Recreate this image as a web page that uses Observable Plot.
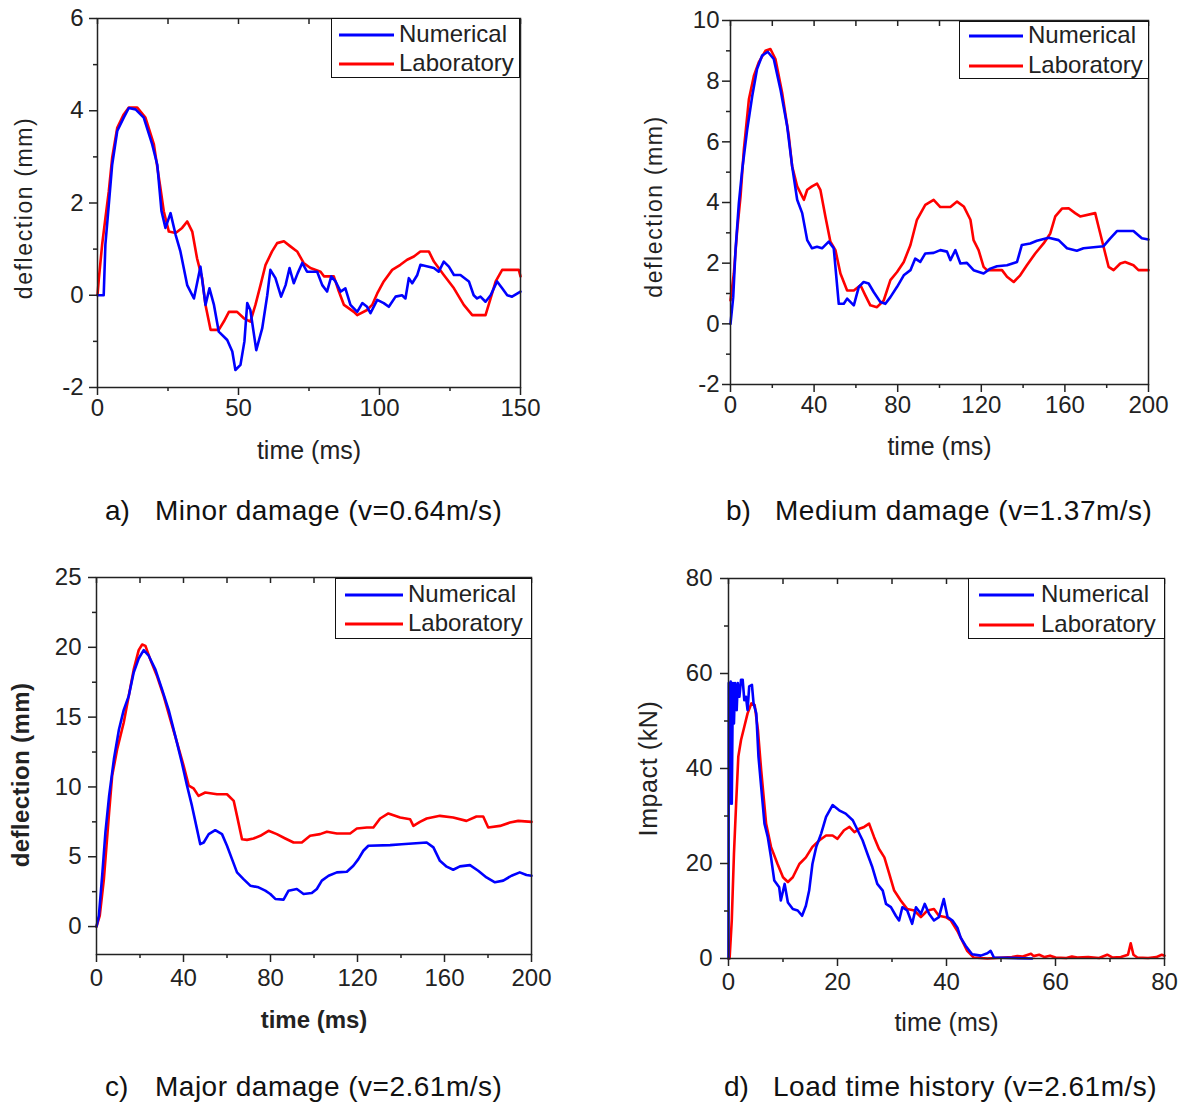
<!DOCTYPE html>
<html>
<head>
<meta charset="utf-8">
<script src="https://cdn.jsdelivr.net/npm/d3@7"></script>
<script src="https://cdn.jsdelivr.net/npm/@observablehq/plot@0.6"></script>
<style>
  body { margin: 0; background: #fff; }
  #root { position: relative; width: 1181px; height: 1106px; font-family: "Liberation Sans", Arial, sans-serif; color: #222; overflow: hidden; }
  .panel { position: absolute; }
  .legend { position: absolute; border: 1.6px solid #111; background: #fff; box-sizing: border-box; }
  .legend .txt { position: absolute; font-size: 24px; line-height: 24px; white-space: nowrap; color: #222; }
  .legend svg { position: absolute; overflow: visible; }
  .cap { position: absolute; font-size: 28px; line-height: 32px; white-space: nowrap; color: #111; }
  .cap .body { letter-spacing: 0.5px; }
</style>
</head>
<body>
<div id="root"></div>
<script>
// ---------- Panel a: Minor damage ----------
const aNumT = [0,2.2,2.8,4,5.2,7,9.3,11.1,13.5,16.4,19.4,21.2,22.7,24.1,25.9,27.7,29.4,31.8,34.2,36.5,38.3,39.7,41.3,43,46,47.8,48.9,50.7,52.1,53.1,54.2,56.3,58.4,60.2,61.3,63.1,65.1,66.7,68.1,69.6,71,72.6,74.3,77.9,79.7,81.4,82.9,84.4,86.2,87.9,89.7,92.1,93.9,95.6,96.8,99.2,101.5,103.3,105.7,108,109.2,110.4,111.6,113.4,114.5,119.3,121,122.8,124.6,126.4,128.7,131.7,133.4,134.6,135.8,137.6,139.4,141.7,143.5,145.3,147,150];
const aNumV = [0,0,1.1,1.96,2.83,3.56,3.85,4.06,4.03,3.85,3.27,2.83,1.82,1.46,1.78,1.31,0.95,0.22,-0.07,0.62,-0.21,0.15,-0.21,-0.79,-0.97,-1.22,-1.62,-1.51,-1.0,-0.17,-0.32,-1.19,-0.72,0,0.55,0.37,-0.03,0.22,0.59,0.26,0.48,0.7,0.51,0.51,0.22,0.08,0.41,0.3,0.08,0.15,-0.21,-0.36,-0.17,-0.25,-0.39,-0.1,-0.17,-0.25,-0.03,0,-0.07,0.37,0.26,0.44,0.66,0.59,0.51,0.73,0.62,0.44,0.44,0.3,0,-0.07,-0.03,-0.14,0,0.3,0.15,0,-0.03,0.08];
const aLabT = [0,0.5,1.65,2.8,4,5.2,7,9.3,11.1,14.1,17,20,22.3,23.5,25.3,27.7,30,31.8,33.6,35.3,37.1,38.3,40.1,43,44.8,46.6,49.5,51.9,54.2,56,57.8,59.6,61.9,63.7,66.1,68.4,70.8,73.1,75.5,79.1,80.3,83.8,85.6,87.4,90.9,92.1,95.6,97.4,99.2,101.5,104.5,107.4,109.8,112.2,114.5,117.5,119.3,122.8,126.4,129.9,132.9,137.6,139.4,141.2,143.5,149.4,150];
const aLabV = [0,0.37,1.1,1.67,2.25,2.98,3.63,3.92,4.07,4.07,3.85,3.27,2.33,1.82,1.38,1.35,1.46,1.6,1.38,0.8,0.37,-0.21,-0.75,-0.75,-0.57,-0.36,-0.36,-0.5,-0.57,-0.21,0.22,0.66,0.95,1.13,1.17,1.06,0.95,0.7,0.59,0.51,0.41,0.41,0.08,-0.21,-0.36,-0.43,-0.32,-0.21,0.04,0.3,0.55,0.66,0.77,0.84,0.95,0.95,0.73,0.44,0.15,-0.21,-0.43,-0.43,-0.07,0.3,0.55,0.55,0.41];

// ---------- Panel b: Medium damage ----------
const bNumT = [0,1.3,2.4,4,5.6,8,10.4,12.7,15.1,17.8,20.7,23.9,27.1,29.5,31.9,34.3,36.7,39,41.4,43.8,47,49.4,51.8,54.2,55.8,59,61.4,63.7,66.1,68.5,71.7,74.1,76.5,79.7,82.9,86.1,88.4,90.8,93.2,97.2,100.4,103.6,105.2,107.6,110,113.1,116.3,121.1,124.3,127.5,132.3,137.1,139.4,143.4,146.6,152.2,157,161,165.7,168.9,178.5,181.7,184.9,192.8,196.8,200];
const bNumV = [0,0.88,2.43,3.98,5.08,6.41,7.51,8.4,8.84,8.97,8.73,7.73,6.52,5.19,4.09,3.65,2.76,2.49,2.54,2.49,2.71,2.49,0.66,0.66,0.83,0.61,1.22,1.38,1.33,1.05,0.72,0.66,0.88,1.22,1.6,1.77,2.15,2.04,2.32,2.34,2.43,2.38,2.1,2.43,1.99,2.01,1.77,1.66,1.82,1.9,1.93,2.04,2.6,2.65,2.74,2.84,2.76,2.49,2.41,2.49,2.56,2.82,3.06,3.06,2.82,2.78];
const bLabT = [0,1.6,3.2,4.8,6.4,8.8,11.2,13.5,16.7,19.1,21.5,24.7,27.9,29.5,31.9,35.1,36.7,39,41.4,43,45.4,47.8,50.2,52.6,55.8,59,62.2,64.5,66.9,70.1,73.3,76.5,79.7,82.9,86.1,89.2,93.2,97.2,100.4,105.2,108.4,111.6,114.8,116.3,118.7,121.1,122.7,129.9,132.3,135.5,138.6,141.8,145.8,149.8,153,155.4,158.6,161.8,164.9,167.3,174.5,176.1,178.5,180.9,183.3,186.5,188.8,192.8,195.2,200];
const bLabV = [0.77,1.66,3.09,4.2,5.75,7.4,8.18,8.62,9.0,9.06,8.73,7.62,6.19,5.19,4.53,4.09,4.42,4.53,4.62,4.42,3.54,2.71,2.43,1.66,1.1,1.1,1.27,0.94,0.61,0.55,0.77,1.44,1.71,2.04,2.6,3.43,3.92,4.09,3.85,3.85,4.03,3.87,3.43,2.76,2.43,1.88,1.77,1.77,1.55,1.38,1.6,1.93,2.32,2.65,2.98,3.54,3.8,3.81,3.65,3.54,3.65,3.2,2.54,1.88,1.77,1.99,2.04,1.93,1.77,1.77];

// ---------- Panel c: Major damage ----------
const cNumT = [0,1.1,2.6,4.1,5.8,8,10.3,12.5,14.8,17.1,19.4,21.7,24,27.1,30.1,33.2,36.3,39.3,41.6,43.9,46.2,47.7,49.3,51.6,54.6,57.7,60,62.3,64.6,67.6,70.7,74.5,77.6,79.9,82.2,86,88.3,92.1,95.2,99,101.3,103.6,106.7,110.5,115.1,118.1,120.4,122.7,125,135,140.3,151.8,154.9,157.9,161,164,167.1,171.7,175.5,179.3,183.2,187,190.8,194.6,197.7,200];
const cNumV = [0,0.79,3.64,6.74,9.36,11.98,14.1,15.5,16.5,18.2,19.2,19.8,19.4,18.4,17.0,15.5,13.6,11.7,10.1,8.64,6.98,5.9,6.02,6.62,6.9,6.62,5.79,4.83,3.88,3.4,2.93,2.81,2.57,2.33,1.98,1.93,2.57,2.69,2.33,2.4,2.69,3.29,3.64,3.88,3.93,4.36,4.83,5.43,5.79,5.83,5.9,6.02,5.67,4.71,4.29,4.07,4.31,4.4,4.0,3.52,3.17,3.29,3.64,3.88,3.69,3.64];
const cLabT = [0,1.5,3.4,5.8,7.2,9.5,12.5,14.8,17.1,19.4,21,22.5,24.8,27.9,30.9,34,37,40.1,42.4,44.6,46.9,50,55.4,60,63.1,64.6,66.9,69.2,72.2,75.3,79.1,82.9,86.8,90.6,94.4,98.2,102.8,105.9,110.5,116.6,119.7,124.3,127.3,130.4,134.2,139.6,144.2,145.7,148.7,151.8,157.9,164,170.1,174.7,177.8,180.1,185.5,190.1,193.9,200];
const cLabV = [0,0.79,3.4,8.17,10.8,12.7,14.6,16.5,18.4,19.8,20.2,20.1,19.1,17.9,16.5,14.8,13.2,11.5,10.1,9.9,9.36,9.6,9.48,9.48,9.0,7.93,6.26,6.21,6.31,6.5,6.86,6.62,6.31,6.02,6.02,6.5,6.62,6.79,6.67,6.67,7.02,7.1,7.1,7.74,8.1,7.81,7.69,7.21,7.5,7.74,7.93,7.81,7.57,7.88,7.88,7.1,7.21,7.45,7.57,7.5];

// ---------- Panel d: Load time history ----------
const dNumT = [0,0.05,0.2,0.4,0.6,0.8,1,1.2,1.5,1.7,2,2.3,2.6,2.9,3.2,3.5,3.8,4.3,4.6,5.1,5.5,6,6.6,7.2,7.8,8.4,9.3,9.6,10.3,10.9,11.8,12.7,13.5,14.2,14.8,15.4,16.1,17,17.9,19.1,20.3,21.5,22.8,23.7,24.6,25.5,26.4,27.3,28.3,28.9,29.8,30.7,31.3,31.9,32.8,33.7,34.4,35.3,36,36.8,37.7,38.6,39.5,40.2,41.1,42,42.6,43.5,44.7,46.3,47.5,48.1,48.7,55.7];
const dNumV = [0,58,32.6,58.3,32.6,58,49.5,58,52.3,58,55.1,58.7,58.7,54.4,55.1,52.3,57.3,57.6,53.7,51.6,42.5,36.1,28.4,25.6,21.3,16.4,15,12.2,15.7,11.8,10.4,10.1,9.0,11.1,14.3,19.9,23.5,26.3,29.8,32.3,31.2,30.5,29.1,27,24.9,22,19.2,15.7,14.3,11.5,10.8,9.0,8.0,10.8,10.1,7.3,10.8,9.4,11.5,9.4,8.0,8.7,12.5,8.7,8.0,6.5,4.4,2.7,0.9,0.6,1.1,1.6,0.2,0];
const dLabT = [0,0.2,0.6,1,1.4,1.8,2.3,2.9,3.5,4.2,4.8,5.4,6,6.9,7.8,9,10,10.9,11.8,13,14.2,15.4,16.7,17.9,19.1,20,21.2,22.2,23.1,24,24.9,25.8,26.7,27.6,28.6,29.5,30.4,31.6,32.8,34.1,35.3,36.5,37.7,38.6,39.9,40.8,42,42.9,43.8,45,47.5,52,53,54,55.5,56,57,58,59,60,62,63,64,66,68,69.5,70.5,72,73.3,73.8,74.3,75,77,78.5,79.5,80];
const dLabV = [0,0,8,22,32.6,42.5,46,48.8,51.6,53.7,53.4,48.1,39.6,28.4,23.5,19.9,17.1,16.1,17.1,19.9,21.3,23.5,24.9,25.9,25.9,25.2,27,27.7,26.6,27.3,27.7,28.4,25.6,23.1,21.3,17.8,14.3,12.2,10.4,10.1,8.7,10.1,10.4,9.0,8.7,8.0,5.8,3.7,1.6,0.2,0,0.3,0.5,0.4,1.0,0.5,0.8,0.3,0.6,0.2,0.1,0.4,0.2,0.3,0.1,0.8,0.2,0.3,0.8,3.2,0.8,0.2,0.1,0.3,0.8,0.6];

// ---------- Axes / labels ----------
const aXMajor = [0,50,100,150], aXMinor = [25,75,125], aYMajor = [-2,0,2,4,6], aYMinor = [-1,1,3,5];
const bXMajor = [0,40,80,120,160,200], bXMinor = [20,60,100,140,180], bYMajor = [-2,0,2,4,6,8,10], bYMinor = [-1,1,3,5,7,9];
const cXMajor = [0,40,80,120,160,200], cXMinor = [20,60,100,140,180], cYMajor = [0,5,10,15,20,25], cYMinor = [2.5,7.5,12.5,17.5,22.5];
const dXMajor = [0,20,40,60,80], dXMinor = [10,30,50,70], dYMajor = [0,20,40,60,80], dYMinor = [10,30,50,70];
const seriesNames = ["Numerical", "Laboratory"];
const seriesColors = ["#0000ff", "#ff0000"];
const xLabels = ["time (ms)", "time (ms)", "time (ms)", "time (ms)"];
const yLabels = ["deflection (mm)", "deflection (mm)", "deflection (mm)", "Impact (kN)"];
const captionTags = ["a)", "b)", "c)", "d)"];
const captionTexts = ["Minor damage (v=0.64m/s)", "Medium damage (v=1.37m/s)", "Major damage (v=2.61m/s)", "Load time history (v=2.61m/s)"];

const FONT = '"Liberation Sans", Arial, Helvetica, sans-serif';
const fmt = d => (d < 0 ? "-" + Math.abs(d) : String(d));

const panels = [
  {left:0, top:0, w:560, h:470, ml:97, mr:40, mt:18, mb:83, xd:[0,150], yd:[-2,6],
   numT:aNumT, numV:aNumV, labT:aLabT, labV:aLabV, xM:aXMajor, xm:aXMinor, yM:aYMajor, ym:aYMinor,
   xPad:3, yPad:6, ylx:-73, yly:5, ylSize:23, ylSpacing:1.6, ylWeight:"normal", xly:71, xlSize:25, xlWeight:"normal",
   leg:{left:331, top:18, w:189, h:60, l1:7, l2:62, r1:16, r2:45, tx:67}},
  {left:620, top:0, w:561, h:470, ml:110, mr:33, mt:20, mb:86, xd:[0,200], yd:[-2,10],
   numT:bNumT, numV:bNumV, labT:bLabT, labV:bLabV, xM:bXMajor, xm:bXMinor, yM:bYMajor, ym:bYMinor,
   xPad:3, yPad:3, ylx:-76, yly:4, ylSize:23, ylSpacing:1.6, ylWeight:"normal", xly:70, xlSize:25, xlWeight:"normal",
   leg:{left:959, top:21, w:190, h:58, l1:9, l2:63, r1:14, r2:44, tx:68}},
  {left:0, top:540, w:570, h:520, ml:96, mr:39, mt:37, mb:106, xd:[0,200], yd:[-2,25],
   numT:cNumT, numV:cNumV, labT:cLabT, labV:cLabV, xM:cXMajor, xm:cXMinor, yM:cYMajor, ym:cYMinor,
   xPad:6, yPad:7, ylx:-75, yly:9, ylSize:24, ylSpacing:0.4, ylWeight:"bold", xly:73, xlSize:24, xlWeight:"bold",
   leg:{left:335, top:578, w:197, h:61, l1:9, l2:67, r1:16, r2:45, tx:72}},
  {left:620, top:540, w:561, h:520, ml:108, mr:17, mt:38, mb:102, xd:[0,80], yd:[0,80],
   numT:dNumT, numV:dNumV, labT:dLabT, labV:dLabV, xM:dXMajor, xm:dXMinor, yM:dYMajor, ym:dYMinor,
   xPad:6, yPad:8, ylx:-80, yly:0, ylSize:25, ylSpacing:0.6, ylWeight:"normal", xly:72, xlSize:25, xlWeight:"normal",
   leg:{left:968, top:578, w:197, h:61, l1:10, l2:65, r1:16, r2:46, tx:72}}
];

const captionPos = [
  {tag:105, body:155, cy:511}, {tag:726, body:775, cy:511},
  {tag:105, body:155, cy:1087}, {tag:724, body:773, cy:1087}
];

const root = document.getElementById("root");

panels.forEach((c, i) => {
  const num = c.numT.map((t, k) => ({t, v: c.numV[k]}));
  const lab = c.labT.map((t, k) => ({t, v: c.labV[k]}));
  const allX = [...c.xM, ...c.xm];
  const svg = Plot.plot({
    width: c.w, height: c.h,
    marginLeft: c.ml, marginRight: c.mr, marginTop: c.mt, marginBottom: c.mb,
    style: {fontFamily: FONT, fontSize: "24px", color: "#222", background: "transparent", overflow: "visible"},
    x: {domain: c.xd},
    y: {domain: c.yd},
    marks: [
      Plot.line(lab, {x: "t", y: "v", stroke: seriesColors[1], strokeWidth: 2.6, strokeLinejoin: "round"}),
      Plot.line(num, {x: "t", y: "v", stroke: seriesColors[0], strokeWidth: 2.6, strokeLinejoin: "round"}),
      Plot.frame({stroke: "#222", strokeWidth: 1.5}),
      Plot.axisX(c.xM, {anchor: "bottom", tickSize: 8, tickPadding: c.xPad, tickFormat: fmt, label: null, strokeWidth: 1.5, stroke: "#222", fill: "#222"}),
      Plot.axisX(c.xm, {anchor: "bottom", tickSize: 4, tickFormat: () => "", label: null, strokeWidth: 1.5, stroke: "#222"}),
      Plot.axisX(allX, {anchor: "top", tickSize: -5, tickFormat: () => "", label: null, strokeWidth: 1.5, stroke: "#222"}),
      Plot.axisY(c.yM, {anchor: "left", tickSize: 8, tickPadding: c.yPad, tickFormat: fmt, label: null, strokeWidth: 1.5, stroke: "#222", fill: "#222"}),
      Plot.axisY(c.ym, {anchor: "left", tickSize: 4, tickFormat: () => "", label: null, strokeWidth: 1.5, stroke: "#222"}),
      Plot.text([yLabels[i]], {frameAnchor: "left", rotate: -90, dx: c.ylx, dy: c.yly, fontSize: c.ylSize, fontWeight: c.ylWeight, fill: "#222", textAnchor: "middle"}),
      Plot.text([xLabels[i]], {frameAnchor: "bottom", dy: c.xly, fontSize: c.xlSize, fontWeight: c.xlWeight, fill: "#222", textAnchor: "middle"})
    ]
  });
  d3.select(svg).selectAll("text").filter(function() { return this.textContent === yLabels[i]; })
    .style("letter-spacing", c.ylSpacing + "px");
  const wrap = document.createElement("div");
  wrap.className = "panel";
  wrap.style.left = c.left + "px";
  wrap.style.top = c.top + "px";
  wrap.appendChild(svg);
  root.appendChild(wrap);

  // legend
  const L = c.leg;
  const lg = document.createElement("div");
  lg.className = "legend";
  Object.assign(lg.style, {left: L.left + "px", top: L.top + "px", width: L.w + "px", height: L.h + "px"});
  [L.r1, L.r2].forEach((ry, k) => {
    const s = d3.create("svg").attr("width", L.l2 - L.l1).attr("height", 4)
      .style("left", L.l1 + "px").style("top", (ry - 2) + "px");
    s.append("line").attr("x1", 0).attr("x2", L.l2 - L.l1).attr("y1", 2).attr("y2", 2)
      .attr("stroke", seriesColors[k]).attr("stroke-width", 3);
    lg.appendChild(s.node());
    const t = document.createElement("div");
    t.className = "txt";
    t.textContent = seriesNames[k];
    t.style.left = L.tx + "px";
    t.style.top = (ry - 13) + "px";
    lg.appendChild(t);
  });
  root.appendChild(lg);

  // caption
  const P = captionPos[i];
  const tag = document.createElement("div");
  tag.className = "cap";
  tag.textContent = captionTags[i];
  tag.style.left = P.tag + "px";
  tag.style.top = (P.cy - 16) + "px";
  root.appendChild(tag);
  const body = document.createElement("div");
  body.className = "cap";
  body.innerHTML = '<span class="body"></span>';
  body.firstChild.textContent = captionTexts[i];
  body.style.left = P.body + "px";
  body.style.top = (P.cy - 16) + "px";
  root.appendChild(body);
});
</script>
</body>
</html>
